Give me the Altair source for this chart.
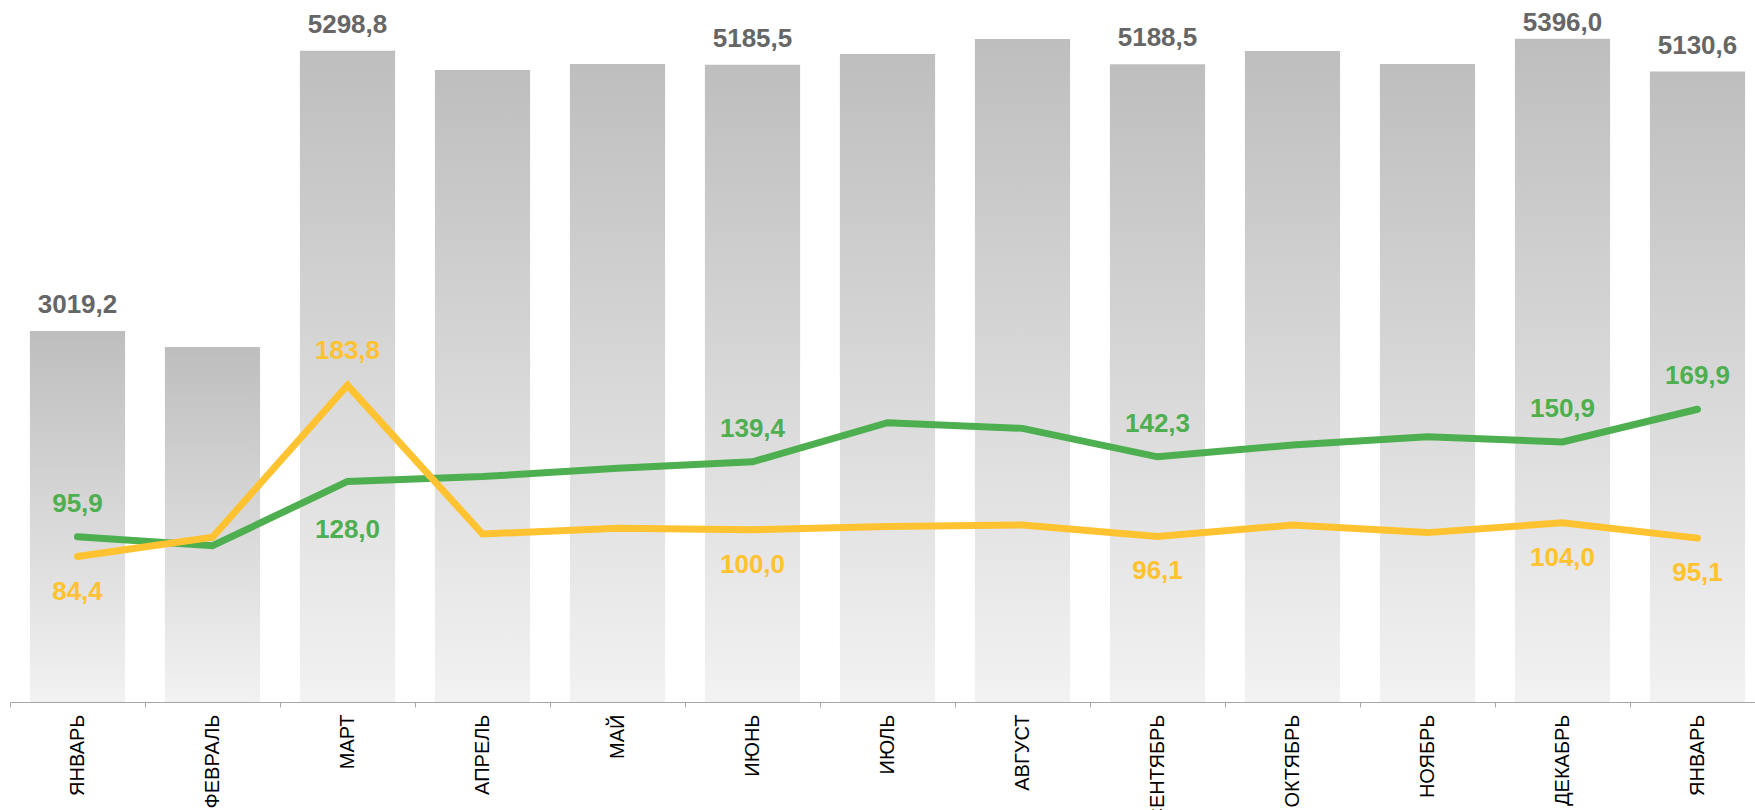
import json
import altair as alt
import pandas as pd

months = ["ЯНВАРЬ", "ФЕВРАЛЬ", "МАРТ", "АПРЕЛЬ", "МАЙ", "ИЮНЬ", "ИЮЛЬ",
          "АВГУСТ", "СЕНТЯБРЬ", "ОКТЯБРЬ", "НОЯБРЬ", "ДЕКАБРЬ", "ЯНВАРЬ"]
bars = [3019.2, 2889.0, 5298.8, 5142.0, 5191.0, 5185.5, 5273.0,
        5395.0, 5188.5, 5297.0, 5191.0, 5396.0, 5130.6]
green = [95.9, 90.7, 128.0, 130.8, 135.6, 139.4, 162.1,
         158.8, 142.3, 149.2, 154.0, 150.9, 169.9]
yellow = [84.4, 95.6, 183.8, 97.5, 100.8, 100.0, 101.8,
          102.7, 96.1, 102.7, 98.3, 104.0, 95.1]

# which points carry a value label
bar_labeled = [0, 2, 5, 8, 11, 12]
green_above = [0, 5, 8, 11, 12]
green_below = [2]
yellow_above = [2]
yellow_below = [0, 5, 8, 11, 12]

df = pd.DataFrame({
    "idx": list(range(len(months))),
    "bar": bars,
    "green": green,
    "yellow": yellow,
})

BAR_MAX = 5712
LINE_MAX = 407.4
GREEN = "#4DAF4F"
YELLOW = "#FFC230"
FONT = "Liberation Sans"

label_expr = json.dumps(months, ensure_ascii=False) + "[datum.value]"

x = alt.X(
    "idx:O",
    title=None,
    scale=alt.Scale(paddingInner=0, paddingOuter=0, range=[0, 1755]),
    axis=alt.Axis(
        labelExpr=label_expr,
        labelAngle=-90,
        labelFont=FONT,
        labelFontSize=20,
        labelColor="#000000",
        labelPadding=7,
        tickBand="extent",
        tickSize=5,
        tickColor="#A6A6A6",
        domainColor="#A6A6A6",
        domainWidth=1.2,
        grid=False,
    ),
)

base = alt.Chart(df).encode(x=x)

def fmt(field):
    return f"replace(format(datum.{field}, '.1f'), '.', ',')"

bar_scale = alt.Scale(domain=[0, BAR_MAX], nice=False, zero=True)
line_scale = alt.Scale(domain=[0, LINE_MAX], nice=False, zero=True)

bar_layer = base.mark_bar(
    width=alt.RelativeBandSize(0.705),
    color=alt.Gradient(
        gradient="linear",
        stops=[alt.GradientStop(color="#BEBEBE", offset=0),
               alt.GradientStop(color="#F2F2F2", offset=1)],
        x1=0, x2=0, y1=0, y2=1,
    ),
).encode(y=alt.Y("bar:Q", scale=bar_scale, axis=None))

bar_text = base.transform_filter(
    alt.FieldOneOfPredicate(field="idx", oneOf=bar_labeled)
).transform_calculate(
    pos=f"min(datum.bar + 211, {BAR_MAX} - 191)",
    lab=fmt("bar"),
).mark_text(
    font=FONT, fontSize=26, fontWeight="bold", color="#666666", baseline="middle"
).encode(y=alt.Y("pos:Q", scale=bar_scale, axis=None), text="lab:N")

green_line = base.mark_line(
    color=GREEN, strokeWidth=7, strokeCap="round", strokeJoin="miter"
).encode(y=alt.Y("green:Q", scale=line_scale, axis=None))

yellow_line = base.mark_line(
    color=YELLOW, strokeWidth=7, strokeCap="round", strokeJoin="miter"
).encode(y=alt.Y("yellow:Q", scale=line_scale, axis=None))


def line_labels(field, idxs, color, dy):
    return base.transform_filter(
        alt.FieldOneOfPredicate(field="idx", oneOf=idxs)
    ).transform_calculate(lab=fmt(field)).mark_text(
        font=FONT, fontSize=26, fontWeight="bold", color=color,
        baseline="middle", dy=dy
    ).encode(y=alt.Y(f"{field}:Q", scale=line_scale, axis=None), text="lab:N")


layers = [
    bar_layer,
    bar_text,
    green_line,
    yellow_line,
    line_labels("green", green_above, GREEN, -33),
    line_labels("green", green_below, GREEN, 49),
    line_labels("yellow", yellow_above, YELLOW, -34),
    line_labels("yellow", yellow_below, YELLOW, 35),
]

chart = alt.layer(*layers).resolve_scale(y="independent").properties(
    width=1745,
    height=702,
    autosize=alt.AutoSizeParams(type="none"),
    padding={"left": 10, "top": 0, "right": 0, "bottom": 108},
    background="white",
).configure_view(strokeWidth=0)

chart.save("out.html", embed_options={"renderer": "svg", "actions": False})
